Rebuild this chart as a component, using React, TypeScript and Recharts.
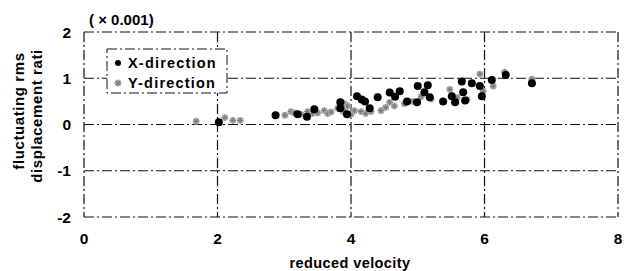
import React from 'react';
import { ScatterChart, Scatter, XAxis, YAxis, CartesianGrid } from 'recharts';

const xDirVelocity = [2.02, 2.87, 3.2, 3.34, 3.45, 3.84, 3.84, 3.94, 4.09, 4.16, 4.21, 4.28, 4.4, 4.58, 4.66, 4.73, 4.84, 4.99, 5.0, 5.1, 5.15, 5.18, 5.38, 5.51, 5.56, 5.66, 5.68, 5.71, 5.81, 5.93, 5.96, 6.11, 6.32, 6.71];
const xDirRatio = [0.05, 0.2, 0.22, 0.17, 0.33, 0.48, 0.35, 0.22, 0.61, 0.54, 0.5, 0.35, 0.59, 0.69, 0.6, 0.72, 0.5, 0.48, 0.83, 0.7, 0.85, 0.59, 0.5, 0.61, 0.48, 0.93, 0.7, 0.52, 0.89, 0.83, 0.61, 0.96, 1.07, 0.89];

const yDirVelocity = [1.68, 2.11, 2.23, 2.34, 3.01, 3.1, 3.15, 3.25, 3.35, 3.42, 3.5, 3.6, 3.65, 3.7, 3.8, 3.88, 3.9, 3.9, 3.95, 4.0, 4.05, 4.15, 4.22, 4.3, 4.45, 4.52, 4.58, 4.65, 4.8, 4.93, 5.05, 5.2, 5.48, 5.59, 5.74, 5.93, 5.98, 6.13, 6.3, 6.71];
const yDirRatio = [0.07, 0.15, 0.09, 0.09, 0.2, 0.28, 0.25, 0.22, 0.28, 0.24, 0.25, 0.3, 0.24, 0.27, 0.35, 0.28, 0.3, 0.45, 0.4, 0.22, 0.3, 0.28, 0.24, 0.28, 0.3, 0.37, 0.48, 0.4, 0.45, 0.5, 0.6, 0.55, 0.76, 0.58, 0.54, 1.09, 0.72, 0.83, 1.13, 0.98];

const xTicks = [0, 2, 4, 6, 8];
const yTicks = [-2, -1, 0, 1, 2];

const seriesNames = ['X-direction', 'Y-direction'];
const xLabel = 'reduced velocity';
const yLabelLines = ['fluctuating rms', 'displacement rati'];
const unitLabel = '( × 0.001)';

const xData = xDirVelocity.map((v, i) => ({ v, r: xDirRatio[i] }));
const yData = yDirVelocity.map((v, i) => ({ v, r: yDirRatio[i] }));

const FONT = '"Liberation Sans", Arial, sans-serif';
const DASH = '10 3 2 3';

const BlackDot = (props: any) => {
  const { cx, cy } = props;
  if (cx == null || cy == null) return null;
  return <circle cx={cx} cy={cy} r={4} fill="#000" />;
};

const GrayStar = (props: any) => {
  const { cx, cy } = props;
  if (cx == null || cy == null) return null;
  const s = 3.2;
  return (
    <g>
      <circle cx={cx} cy={cy} r={3.4} fill="#bbb" />
      <path
        d={`M${cx - s},${cy} L${cx + s},${cy} M${cx},${cy - s} L${cx},${cy + s} M${cx - s * 0.7},${cy - s * 0.7} L${cx + s * 0.7},${cy + s * 0.7} M${cx - s * 0.7},${cy + s * 0.7} L${cx + s * 0.7},${cy - s * 0.7}`}
        stroke="#777"
        strokeWidth={1}
      />
    </g>
  );
};

export default function App() {
  const tickStyle = { fontFamily: FONT, fontWeight: 700, fontSize: 15.5, fill: '#000' };
  return (
    <div style={{ position: 'absolute', left: 0, top: 0, width: 632, height: 271, background: '#fff' }}>
      <ScatterChart width={632} height={271} margin={{ top: 32, right: 14, bottom: 24, left: 24 }}>
        <CartesianGrid stroke="#111" strokeWidth={1.2} strokeDasharray={DASH} />
        <XAxis
          type="number"
          dataKey="v"
          domain={[0, 8]}
          ticks={xTicks}
          axisLine={false}
          tickLine={false}
          tickSize={0}
          tickMargin={16}
          height={30}
          tick={tickStyle}
          interval={0}
        />
        <YAxis
          type="number"
          dataKey="r"
          domain={[-2, 2]}
          ticks={yTicks}
          axisLine={false}
          tickLine={false}
          tickSize={0}
          tickMargin={13}
          width={60}
          tick={tickStyle}
          interval={0}
        />
        <Scatter name={seriesNames[1]} data={yData} shape={GrayStar} isAnimationActive={false} />
        <Scatter name={seriesNames[0]} data={xData} shape={BlackDot} isAnimationActive={false} />
      </ScatterChart>
      <svg width={632} height={271} style={{ position: 'absolute', left: 0, top: 0, pointerEvents: 'none' }}>
        <text x={89} y={25} fontFamily={FONT} fontWeight={700} fontSize={15} fill="#000">{unitLabel}</text>
        <text x={350} y={268} textAnchor="middle" fontFamily={FONT} fontWeight={700} fontSize={14.5} letterSpacing={0.4} fill="#000">{xLabel}</text>
        <text transform="translate(24,111) rotate(-90)" textAnchor="middle" fontFamily={FONT} fontWeight={700} fontSize={15} letterSpacing={0.6} fill="#000">{yLabelLines[0]}</text>
        <text transform="translate(42,116) rotate(-90)" textAnchor="middle" fontFamily={FONT} fontWeight={700} fontSize={15} letterSpacing={0.6} fill="#000">{yLabelLines[1]}</text>
        <rect x={107} y={49} width={120} height={44} fill="#fff" stroke="#111" strokeWidth={1} strokeDasharray={DASH} />
        <circle cx={118} cy={63} r={3} fill="#000" />
        <text x={128} y={68} fontFamily={FONT} fontWeight={700} fontSize={14.5} letterSpacing={1.2} fill="#000">{seriesNames[0]}</text>
        <GrayStar cx={118} cy={83} />
        <text x={128} y={88} fontFamily={FONT} fontWeight={700} fontSize={14.5} letterSpacing={1.2} fill="#000">{seriesNames[1]}</text>
      </svg>
    </div>
  );
}
